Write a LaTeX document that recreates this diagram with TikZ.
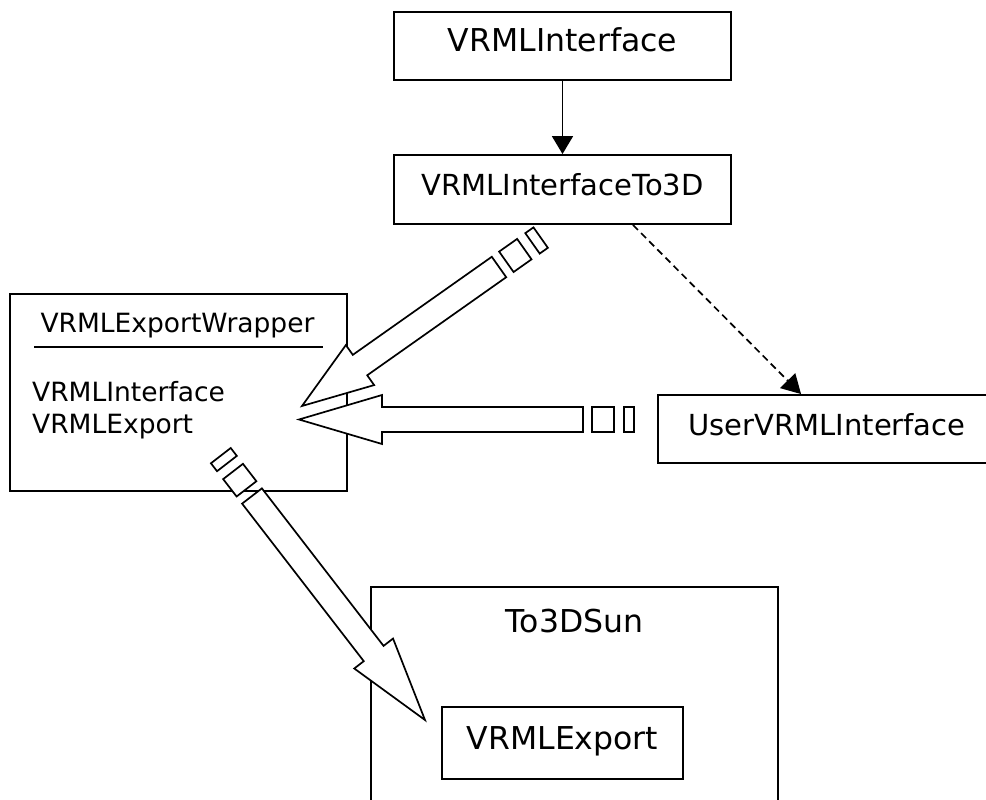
\documentclass[tikz,border=0pt]{standalone}
\usepackage{fontspec}
\setmainfont{DejaVu Sans}
\usetikzlibrary{calc,arrows.meta}

\tikzset{
  box/.style={draw, line width=1.9pt, fill=white, inner sep=0pt,
              text height=22pt, text depth=10pt},
  bigtext/.style={font=\fontsize{29}{34}\selectfont},
  midtext/.style={font=\fontsize{26.5}{32}\selectfont},
  largetext/.style={font=\fontsize{31.5}{38}\selectfont},
  solidarr/.style={line width=1.8pt, -{Triangle[width=21pt,length=18pt]}},
  dasharr/.style={line width=1.7pt, dash pattern=on 7pt off 4.5pt,
                  -{Triangle[width=21pt,length=19pt]}},
  fatpart/.style={draw, line width=1.7pt, fill=white, line join=miter},
}

% Hollow "fat" arrow with two small blocks behind its tail.
% #1 tail coordinate, #2 tip coordinate, #3 head length
\newcommand\fatarrow[3]{%
  \path let \p1=($(#2)-(#1)$) in \pgfextra{%
    \pgfmathsetmacro\fatang{atan2(\y1,\x1)}%
    \pgfmathsetmacro\fatlen{veclen(\x1,\y1)}%
    \xdef\fatA{\fatang}\xdef\fatL{\fatlen}};
  \begin{scope}[shift={(#1)}, rotate=\fatA, x=1pt, y=1pt]
    \pgfmathsetmacro\fatS{\fatL-#3}
    \path[fatpart] (0,-12.5) -- (\fatS,-12.5) -- (\fatS,-24.5) -- (\fatL,0)
      -- (\fatS,24.5) -- (\fatS,12.5) -- (0,12.5) -- cycle;
    \path[fatpart] (-31,-12.5) rectangle (-9,12.5);
    \path[fatpart] (-51,-12.5) rectangle (-41,12.5);
  \end{scope}}

\begin{document}
\begin{tikzpicture}[x=1pt, y=-1pt]
  \useasboundingbox (0,0) rectangle (986,800);
  \clip (0,0) rectangle (986,800);

  % class boxes
  \node[box, largetext, minimum width=337pt, minimum height=68pt]
    (vrmlif) at (562.5,46) {VRMLInterface};
  \node[box, bigtext, minimum width=337pt, minimum height=69pt]
    (to3d) at (562.5,189.5) {VRMLInterfaceTo3D};
  \node[box, bigtext, minimum width=338pt, minimum height=68pt]
    (user) at (827,429) {UserVRMLInterface};

  % wrapper with its title and members
  \node[box, minimum width=337pt, minimum height=197pt] (wrap) at (178.5,392.5) {};
  \node[midtext, anchor=base] (wraptitle) at (177.5,332) {VRMLExportWrapper};
  \coordinate (sepL) at (34,347);
  \coordinate (sepR) at (323,347);
  \draw[line width=1.7pt] (sepL) -- (sepR);
  \node[midtext, anchor=base west, inner sep=0pt] (m1) at (32,401) {VRMLInterface};
  \node[midtext, anchor=base west, inner sep=0pt] (m2) at (32,433) {VRMLExport};

  % package-like container with nested box
  \node[box, minimum width=407pt, minimum height=243pt] (sun) at (574.5,708.5) {};
  \node[largetext, anchor=base] (suntitle) at (574.5,632) {To3DSun};
  \node[box, largetext, minimum width=241pt, minimum height=72pt]
    (vexp) at (562.5,743) {VRMLExport};

  % plain connectors
  \draw[solidarr] (vrmlif.south) -- (to3d.north);
  \draw[dasharr] ([xshift=70.5pt]to3d.south) -- ([xshift=144pt]user.north west);

  % hollow arrows
  \coordinate (a1tail) at (499,267);
  \coordinate (a1tip)  at (302,406);
  \coordinate (a2tail) at (583,419.5);
  \coordinate (a2tip)  at (299,419.5);
  \coordinate (a3tail) at (252,496);
  \coordinate (a3tip)  at (425,720);
  \fatarrow{a1tail}{a1tip}{71}
  \fatarrow{a2tail}{a2tip}{83}
  \fatarrow{a3tail}{a3tip}{84}
\end{tikzpicture}
\end{document}
